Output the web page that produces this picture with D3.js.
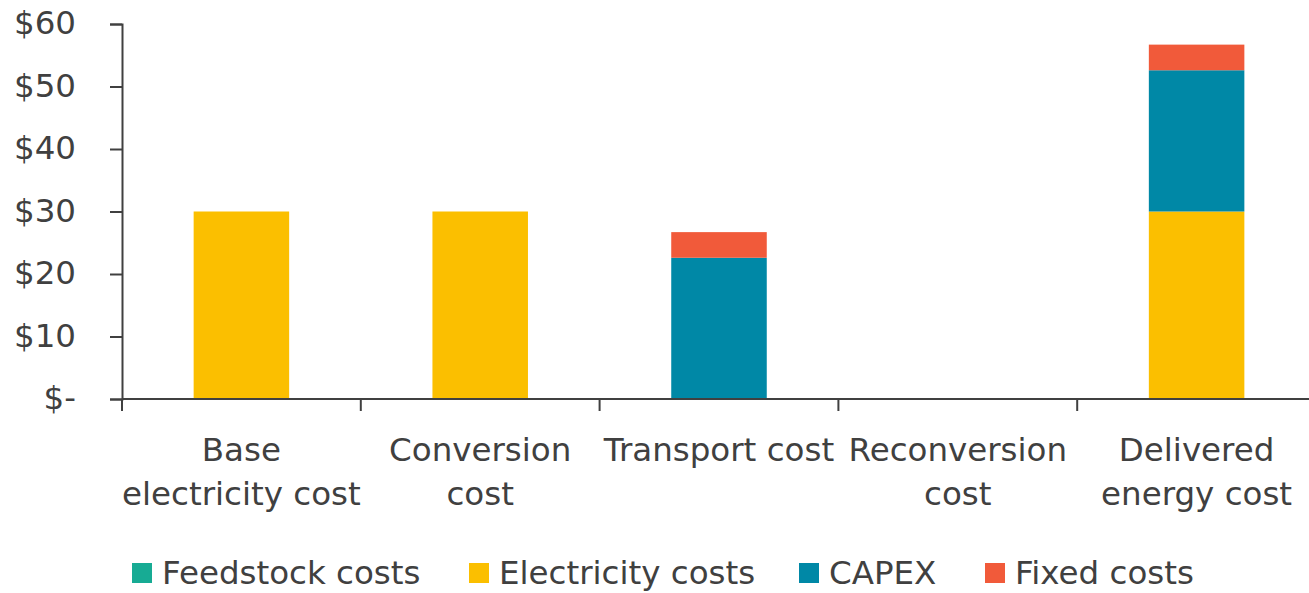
<!DOCTYPE html>
<html>
<head>
<meta charset="utf-8">
<script src="https://cdn.jsdelivr.net/npm/d3@7"></script>
<style>
  html, body { margin: 0; padding: 0; background: #fff; }
  svg text { font-family: "DejaVu Sans", sans-serif; fill: #404040; }
</style>
</head>
<body>
<svg id="chart" width="1309" height="593"></svg>
<script>
// Cost stages along the supply chain
const categories = ["Base electricity cost", "Conversion cost", "Transport cost", "Reconversion cost", "Delivered energy cost"];
const categoryLines = [["Base", "electricity cost"], ["Conversion", "cost"], ["Transport cost"], ["Reconversion", "cost"], ["Delivered", "energy cost"]];

// Cost components ($), one array per series
const seriesNames = ["Feedstock costs", "Electricity costs", "CAPEX", "Fixed costs"];
const feedstockCosts   = [0, 0, 0, 0, 0];
const electricityCosts = [30, 30, 0, 0, 30];
const capexCosts       = [0, 0, 22.6, 0, 22.6];
const fixedCosts       = [0, 0, 4.1, 0, 4.1];
const seriesColors = ["#17AB94", "#FBBF00", "#0088A6", "#F15A3A"];

const yTicks = [0, 10, 20, 30, 40, 50, 60];

const svg = d3.select("#chart");
const plotLeft = 122, plotRight = 1316, plotTop = 24, plotBottom = 399;
const fontSize = "32.5px";

const rows = categories.map((c, i) => ({
  category: c,
  "Feedstock costs": feedstockCosts[i],
  "Electricity costs": electricityCosts[i],
  "CAPEX": capexCosts[i],
  "Fixed costs": fixedCosts[i]
}));

const x = d3.scaleBand().domain(categories).range([plotLeft, plotRight]).paddingInner(0.6).paddingOuter(0.3);
const y = d3.scaleLinear().domain([0, 60]).range([plotBottom, plotTop]);
const color = d3.scaleOrdinal().domain(seriesNames).range(seriesColors);

const stacked = d3.stack().keys(seriesNames)(rows);

// Bars
svg.append("g").selectAll("g").data(stacked).join("g")
  .attr("fill", d => color(d.key))
  .selectAll("rect").data(d => d).join("rect")
  .attr("x", d => x(d.data.category))
  .attr("width", x.bandwidth())
  .attr("y", d => y(d[1]))
  .attr("height", d => y(d[0]) - y(d[1]));

// Y axis
const yAxis = svg.append("g").attr("transform", `translate(${plotLeft},0)`)
  .call(d3.axisLeft(y).tickValues(yTicks).tickSize(12).tickPadding(34)
    .tickFormat(d => d === 0 ? "$-" : "$" + d));
yAxis.select(".domain").attr("stroke", "#404040").attr("stroke-width", 2);
yAxis.selectAll(".tick line").attr("stroke", "#404040").attr("stroke-width", 2);
yAxis.selectAll(".tick text").style("font-size", fontSize).attr("dy", "0.3em");

// X axis baseline with tick marks at category boundaries
const xAxisG = svg.append("g");
xAxisG.append("line").attr("x1", plotLeft).attr("x2", plotRight).attr("y1", plotBottom).attr("y2", plotBottom)
  .attr("stroke", "#404040").attr("stroke-width", 2);
const step = x.step();
const boundaries = d3.range(categories.length + 1).map(i => x(categories[0]) - x.paddingOuter() * step + i * step);
xAxisG.selectAll("line.tk").data(boundaries).join("line").attr("class", "tk")
  .attr("x1", d => d).attr("x2", d => d).attr("y1", plotBottom).attr("y2", plotBottom + 12)
  .attr("stroke", "#404040").attr("stroke-width", 2);

// Category labels
const labels = svg.append("g").selectAll("text").data(categories).join("text")
  .attr("x", d => x(d) + x.bandwidth() / 2)
  .attr("y", 461)
  .attr("text-anchor", "middle")
  .style("font-size", fontSize);
labels.each(function (d, i) {
  const t = d3.select(this);
  categoryLines[i].forEach((ln, j) => {
    t.append("tspan").attr("x", x(d) + x.bandwidth() / 2).attr("dy", j === 0 ? 0 : 44).text(ln);
  });
});

// Legend
const legendX = [132, 469, 799, 985];
const legend = svg.append("g").selectAll("g").data(seriesNames).join("g")
  .attr("transform", (d, i) => `translate(${legendX[i]},563)`);
legend.append("rect").attr("width", 20).attr("height", 20).attr("fill", d => color(d));
legend.append("text").attr("x", 30).attr("y", 21).style("font-size", fontSize).text(d => d);
</script>
</body>
</html>
